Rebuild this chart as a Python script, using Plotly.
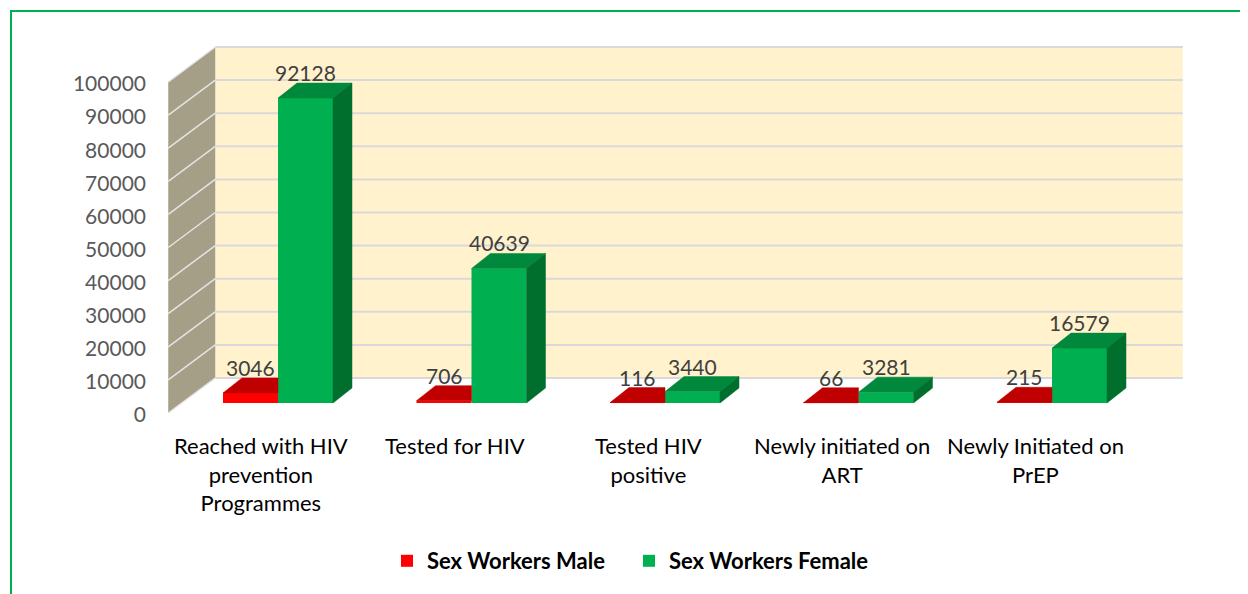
import plotly.graph_objects as go

# data
categories = ["Reached with HIV<br>prevention<br>Programmes", "Tested for HIV",
              "Tested HIV<br>positive", "Newly initiated on<br>ART",
              "Newly Initiated on<br>PrEP"]
male = [3046, 706, 116, 66, 215]
female = [92128, 40639, 3440, 3281, 16579]
tick_vals = list(range(0, 100001, 10000))
y_max = 100000

# page / pixel scale of the fake 3d view (page sits 8px in from the window edge)
W, H = 1248, 594
OFF = 8
L = 147 - OFF
X0, XS = 278 - OFF, 193.5      # px of category 0, px per category
Y0, YS = 403 - OFF, 0.00331    # px of value 0, px per unit


def dx(px):
    return px / XS


def dy(px):
    return px / YS


def paper_x(px):
    return (px - OFF - L) / (W - L)


def paper_y(px):
    return 1 - (px - OFF) / H


bw = dx(55)                  # bar width
bdx, bdy = dx(19), dy(15)    # bar depth
wdx, wdy = dx(34), dy(25)    # back wall offset
fdx, fdy = dx(-13), dy(-10)  # front edge of side wall
x_left, x_right = -0.5, len(categories) - 0.5

fig = go.Figure()

fig.add_trace(go.Bar(x=list(range(len(categories))), y=male, width=bw, offset=-bw,
                     name="Sex Workers Male", marker=dict(color="#FF0000", line_width=0),
                     hoverinfo="skip"))
fig.add_trace(go.Bar(x=list(range(len(categories))), y=female, width=bw, offset=0,
                     name="Sex Workers Female", marker=dict(color="#00B050", line_width=0),
                     hoverinfo="skip"))

# top / side faces
red_x, red_y = [], []
gt_x, gt_y, gs_x, gs_y = [], [], [], []
for i, (m, f) in enumerate(zip(male, female)):
    xl, xr = i - bw, i
    red_x += [xl, xr, xr, xl + bdx, xl, None]
    red_y += [m, m, m + bdy, m + bdy, m, None]
    xl, xr = i, i + bw
    gt_x += [xl, xr, xr + bdx, xl + bdx, xl, None]
    gt_y += [f, f, f + bdy, f + bdy, f, None]
    gs_x += [xr, xr, xr + bdx, xr + bdx, xr, None]
    gs_y += [0, f, f + bdy, bdy, 0, None]

for xs, ys, col in [(red_x, red_y, "#C00000"), (gt_x, gt_y, "#00883C"), (gs_x, gs_y, "#006F2E")]:
    fig.add_trace(go.Scatter(x=xs, y=ys, mode="lines", fill="toself", fillcolor=col,
                             line=dict(width=0.5, color=col), showlegend=False, hoverinfo="skip"))

shapes = []
# back wall
shapes.append(dict(type="path", xref="x", yref="y", layer="below",
                   path=f"M{x_left + wdx},{wdy} L{x_right + wdx},{wdy} L{x_right + wdx},{y_max + wdy} "
                        f"L{x_left + wdx},{y_max + wdy} Z",
                   fillcolor="#FFF2CC", line_width=0))
# side wall
shapes.append(dict(type="path", xref="x", yref="y", layer="below",
                   path=f"M{x_left + fdx},{fdy} L{x_left + fdx},{y_max + fdy} L{x_left + wdx},{y_max + wdy} "
                        f"L{x_left + wdx},{wdy} Z",
                   fillcolor="#A59F87", line_width=0))
for v in tick_vals:
    shapes.append(dict(type="line", xref="x", yref="y", layer="below",
                       x0=x_left + wdx, x1=x_right + wdx, y0=v + wdy, y1=v + wdy,
                       line=dict(color="#D9D9D9", width=2)))
    shapes.append(dict(type="line", xref="x", yref="y", layer="below",
                       x0=x_left + fdx, x1=x_left + wdx, y0=v + fdy, y1=v + wdy,
                       line=dict(color="#E4E4E4", width=1.5)))
# green frame (top and left edges are the only ones in view)
frame = dict(color="#00B050", width=2)
shapes.append(dict(type="line", xref="paper", yref="paper", x0=paper_x(10), x1=paper_x(W + 30),
                   y0=paper_y(11), y1=paper_y(11), line=frame))
shapes.append(dict(type="line", xref="paper", yref="paper", x0=paper_x(11), x1=paper_x(11),
                   y0=paper_y(10), y1=paper_y(H + 30), line=frame))

annotations = []
for i, (m, f) in enumerate(zip(male, female)):
    for xv, v in [(i - bw / 2, m), (i + bw / 2, f)]:
        annotations.append(dict(x=xv, y=v, xref="x", yref="y", text=str(v), showarrow=False,
                                yanchor="bottom", yshift=11,
                                font=dict(family="Lato", size=21, color="#404040")))
    annotations.append(dict(x=i - dx(17), y=paper_y(430), xref="x", yref="paper", text=categories[i],
                            showarrow=False, yanchor="top",
                            font=dict(family="Lato", size=22, color="#000000")))

fig.update_layout(
    width=W, height=H,
    margin=dict(l=L, r=0, t=0, b=0),
    paper_bgcolor="white", plot_bgcolor="white",
    shapes=shapes, annotations=annotations,
    showlegend=True,
    legend=dict(orientation="h", x=paper_x(387), xanchor="left", y=paper_y(561), yanchor="middle",
                font=dict(family="Lato", size=22, color="#000000", weight="bold"),
                itemwidth=30, entrywidth=197, entrywidthmode="pixels"),
    xaxis=dict(range=[(L - X0) / XS, (W - X0) / XS], showgrid=False, zeroline=False,
               showticklabels=False, showline=False, fixedrange=True),
    yaxis=dict(range=[(Y0 - H) / YS, Y0 / YS], showgrid=False, zeroline=False, showline=False,
               tickvals=tick_vals, ticktext=[str(v) for v in tick_vals], ticklabelshift=12,
               tickfont=dict(family="Lato", size=21, color="#595959"), automargin=False,
               fixedrange=True),
)

fig.write_html("out.html")
